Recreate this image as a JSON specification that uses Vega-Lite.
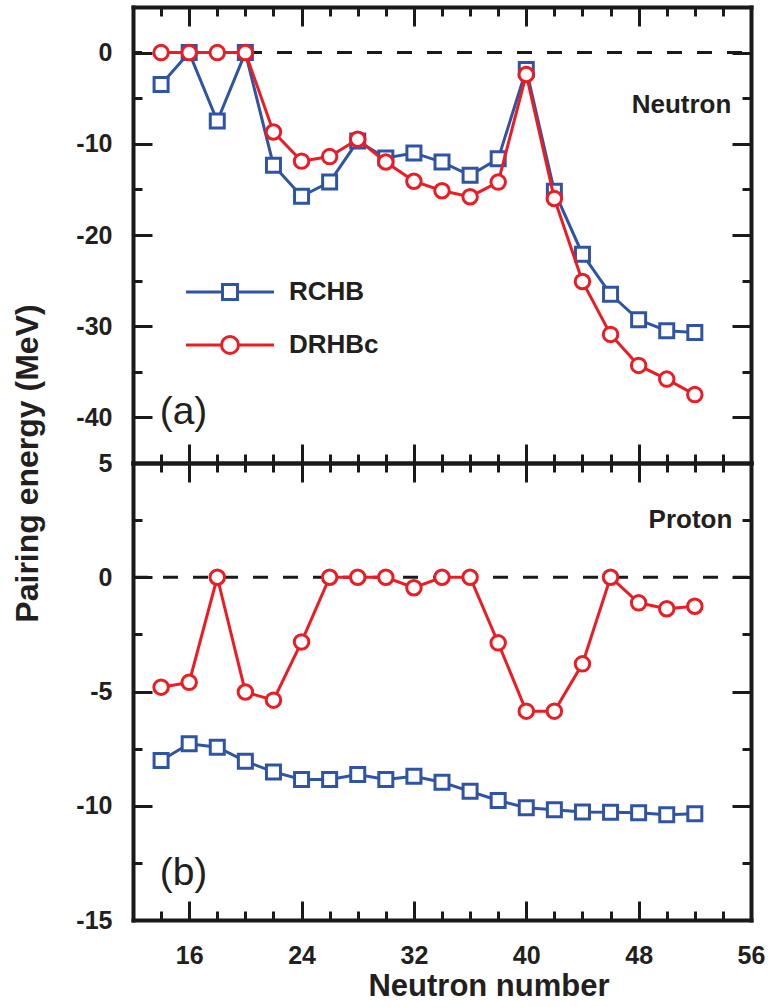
{
  "$schema": "https://vega.github.io/schema/vega-lite/v6.json",
  "padding": {"left": 10, "top": 5, "right": 5, "bottom": 5},
  "background": "white",
  "spacing": 0,
  "bounds": "flush",
  "config": {
    "view": {"stroke": null},
    "font": "Liberation Sans",
    "axis": {
      "grid": false,
      "domainWidth": 4,
      "domainColor": "#1a1a1a",
      "domainCap": "square",
      "tickWidth": 3,
      "tickColor": "#1a1a1a",
      "labelFont": "Liberation Sans",
      "labelFontSize": 25,
      "labelFontWeight": "bold",
      "labelColor": "#231f20",
      "labelFlush": false,
      "labelOverlap": false,
      "titleFont": "Liberation Sans",
      "titleFontWeight": "bold",
      "titleColor": "#231f20"
    }
  },
  "datasets": {
    "neutron": [
      {"N": 14, "model": "RCHB", "E": -3.5},
      {"N": 16, "model": "RCHB", "E": 0},
      {"N": 18, "model": "RCHB", "E": -7.5},
      {"N": 20, "model": "RCHB", "E": 0},
      {"N": 22, "model": "RCHB", "E": -12.35},
      {"N": 24, "model": "RCHB", "E": -15.75},
      {"N": 26, "model": "RCHB", "E": -14.2},
      {"N": 28, "model": "RCHB", "E": -9.7},
      {"N": 30, "model": "RCHB", "E": -11.55},
      {"N": 32, "model": "RCHB", "E": -11.0},
      {"N": 34, "model": "RCHB", "E": -12.0},
      {"N": 36, "model": "RCHB", "E": -13.45},
      {"N": 38, "model": "RCHB", "E": -11.65},
      {"N": 40, "model": "RCHB", "E": -1.85},
      {"N": 42, "model": "RCHB", "E": -15.2},
      {"N": 44, "model": "RCHB", "E": -22.1},
      {"N": 46, "model": "RCHB", "E": -26.5},
      {"N": 48, "model": "RCHB", "E": -29.3},
      {"N": 50, "model": "RCHB", "E": -30.5},
      {"N": 52, "model": "RCHB", "E": -30.7},
      {"N": 14, "model": "DRHBc", "E": 0},
      {"N": 16, "model": "DRHBc", "E": 0},
      {"N": 18, "model": "DRHBc", "E": 0},
      {"N": 20, "model": "DRHBc", "E": 0},
      {"N": 22, "model": "DRHBc", "E": -8.7},
      {"N": 24, "model": "DRHBc", "E": -11.9},
      {"N": 26, "model": "DRHBc", "E": -11.4},
      {"N": 28, "model": "DRHBc", "E": -9.5},
      {"N": 30, "model": "DRHBc", "E": -12.0},
      {"N": 32, "model": "DRHBc", "E": -14.1},
      {"N": 34, "model": "DRHBc", "E": -15.15},
      {"N": 36, "model": "DRHBc", "E": -15.8},
      {"N": 38, "model": "DRHBc", "E": -14.2},
      {"N": 40, "model": "DRHBc", "E": -2.4},
      {"N": 42, "model": "DRHBc", "E": -16.0},
      {"N": 44, "model": "DRHBc", "E": -25.1},
      {"N": 46, "model": "DRHBc", "E": -30.9},
      {"N": 48, "model": "DRHBc", "E": -34.3},
      {"N": 50, "model": "DRHBc", "E": -35.8},
      {"N": 52, "model": "DRHBc", "E": -37.5}
    ],
    "proton": [
      {"N": 14, "model": "RCHB", "E": -8.02},
      {"N": 16, "model": "RCHB", "E": -7.29},
      {"N": 18, "model": "RCHB", "E": -7.44},
      {"N": 20, "model": "RCHB", "E": -8.05},
      {"N": 22, "model": "RCHB", "E": -8.52},
      {"N": 24, "model": "RCHB", "E": -8.85},
      {"N": 26, "model": "RCHB", "E": -8.85},
      {"N": 28, "model": "RCHB", "E": -8.63},
      {"N": 30, "model": "RCHB", "E": -8.85},
      {"N": 32, "model": "RCHB", "E": -8.71},
      {"N": 34, "model": "RCHB", "E": -8.97},
      {"N": 36, "model": "RCHB", "E": -9.37},
      {"N": 38, "model": "RCHB", "E": -9.77},
      {"N": 40, "model": "RCHB", "E": -10.09},
      {"N": 42, "model": "RCHB", "E": -10.17},
      {"N": 44, "model": "RCHB", "E": -10.27},
      {"N": 46, "model": "RCHB", "E": -10.28},
      {"N": 48, "model": "RCHB", "E": -10.31},
      {"N": 50, "model": "RCHB", "E": -10.39},
      {"N": 52, "model": "RCHB", "E": -10.35},
      {"N": 14, "model": "DRHBc", "E": -4.81},
      {"N": 16, "model": "DRHBc", "E": -4.6},
      {"N": 18, "model": "DRHBc", "E": 0},
      {"N": 20, "model": "DRHBc", "E": -5.02},
      {"N": 22, "model": "DRHBc", "E": -5.38},
      {"N": 24, "model": "DRHBc", "E": -2.83},
      {"N": 26, "model": "DRHBc", "E": 0},
      {"N": 28, "model": "DRHBc", "E": 0},
      {"N": 30, "model": "DRHBc", "E": 0},
      {"N": 32, "model": "DRHBc", "E": -0.46},
      {"N": 34, "model": "DRHBc", "E": 0},
      {"N": 36, "model": "DRHBc", "E": 0},
      {"N": 38, "model": "DRHBc", "E": -2.87},
      {"N": 40, "model": "DRHBc", "E": -5.86},
      {"N": 42, "model": "DRHBc", "E": -5.86},
      {"N": 44, "model": "DRHBc", "E": -3.79},
      {"N": 46, "model": "DRHBc", "E": 0},
      {"N": 48, "model": "DRHBc", "E": -1.12},
      {"N": 50, "model": "DRHBc", "E": -1.38},
      {"N": 52, "model": "DRHBc", "E": -1.27}
    ]
  },
  "vconcat": [
    {
      "width": 618,
      "height": 456,
      "data": {"name": "neutron"},
      "resolve": {"axis": {"x": "independent", "y": "independent"}},
      "layer": [
        {
          "data": {"values": [{}]},
          "mark": {"type": "rule", "color": "#1a1a1a", "strokeWidth": 3, "strokeDash": [15, 15], "strokeDashOffset": 21},
          "encoding": {
            "y": {"datum": 0, "type": "quantitative", "scale": {"domain": [-45, 5], "nice": false, "zero": false}, "axis": null}
          }
        },
        {
          "transform": [{"filter": "datum.model === 'RCHB'"}],
          "mark": {"type": "line", "color": "#3054a5", "strokeWidth": 3},
          "encoding": {
            "x": {"field": "N", "type": "quantitative", "scale": {"domain": [12, 56], "nice": false, "zero": false},
              "axis": {"orient": "bottom", "values": [16, 24, 32, 40, 48, 56], "tickSize": -19, "labels": false, "title": null}},
            "y": {"field": "E", "type": "quantitative", "scale": {"domain": [-45, 5], "nice": false, "zero": false},
              "axis": {"orient": "left", "values": [0, -10, -20, -30, -40], "tickSize": -19,
                "labelExpr": "toString(datum.value)", "labelPadding": 40, "title": null}}
          }
        },
        {
          "transform": [{"filter": "datum.model === 'RCHB'"}],
          "mark": {"type": "point", "shape": "square", "filled": true, "fill": "white", "stroke": "#3054a5", "strokeWidth": 3, "size": 196, "opacity": 1},
          "encoding": {
            "x": {"field": "N", "type": "quantitative", "scale": {"domain": [12, 56], "nice": false, "zero": false},
              "axis": {"orient": "bottom", "values": [14, 18, 20, 22, 26, 28, 30, 34, 36, 38, 42, 44, 46, 50, 52, 54], "tickSize": -9, "labels": false, "domain": false, "title": null}},
            "y": {"field": "E", "type": "quantitative", "scale": {"domain": [-45, 5], "nice": false, "zero": false},
              "axis": {"orient": "left", "values": [-5, -15, -25, -35], "tickSize": -9, "labels": false, "domain": false, "title": null}}
          }
        },
        {
          "transform": [{"filter": "datum.model === 'DRHBc'"}],
          "mark": {"type": "line", "color": "#ec1c24", "strokeWidth": 3},
          "encoding": {
            "x": {"field": "N", "type": "quantitative", "scale": {"domain": [12, 56], "nice": false, "zero": false},
              "axis": {"orient": "top", "values": [16, 24, 32, 40, 48, 56], "tickSize": -19, "labels": false, "title": null}},
            "y": {"field": "E", "type": "quantitative", "scale": {"domain": [-45, 5], "nice": false, "zero": false},
              "axis": {"orient": "right", "values": [0, -10, -20, -30, -40], "tickSize": -19, "labels": false, "title": null}}
          }
        },
        {
          "transform": [{"filter": "datum.model === 'DRHBc'"}],
          "mark": {"type": "point", "shape": "circle", "filled": true, "fill": "white", "stroke": "#ec1c24", "strokeWidth": 3, "size": 210, "opacity": 1},
          "encoding": {
            "x": {"field": "N", "type": "quantitative", "scale": {"domain": [12, 56], "nice": false, "zero": false},
              "axis": {"orient": "top", "values": [14, 18, 20, 22, 26, 28, 30, 34, 36, 38, 42, 44, 46, 50, 52, 54], "tickSize": -9, "labels": false, "domain": false, "title": null}},
            "y": {"field": "E", "type": "quantitative", "scale": {"domain": [-45, 5], "nice": false, "zero": false},
              "axis": {"orient": "right", "values": [-5, -15, -25, -35], "tickSize": -9, "labels": false, "domain": false, "title": null}}
          }
        },
        {
          "data": {"values": [{}]},
          "mark": {"type": "text", "text": "Neutron", "align": "right", "baseline": "alphabetic", "font": "Liberation Sans", "fontSize": 26, "fontWeight": "bold", "color": "#231f20"},
          "encoding": {
            "x": {"datum": 54.6, "type": "quantitative", "scale": {"domain": [12, 56], "nice": false, "zero": false}, "axis": null},
            "y": {"datum": -6.6, "type": "quantitative", "scale": {"domain": [-45, 5], "nice": false, "zero": false}, "axis": null}
          }
        },
        {
          "data": {"values": [{}]},
          "mark": {"type": "text", "text": "(a)", "align": "left", "baseline": "alphabetic", "font": "Liberation Sans", "fontSize": 39, "fontWeight": "normal", "color": "#231f20"},
          "encoding": {
            "x": {"datum": 13.9, "type": "quantitative", "scale": {"domain": [12, 56], "nice": false, "zero": false}, "axis": null},
            "y": {"datum": -40.7, "type": "quantitative", "scale": {"domain": [-45, 5], "nice": false, "zero": false}, "axis": null}
          }
        },
        {
          "transform": [{"filter": "false"}],
          "mark": {"type": "point", "filled": false, "strokeWidth": 3, "size": 400, "opacity": 1},
          "encoding": {
            "shape": {"field": "model", "type": "nominal",
              "scale": {"domain": ["RCHB", "DRHBc"], "range": [
                "M-4.4,0H-0.75M0.75,0H4.4M-0.75,-0.75H0.75V0.75H-0.75Z",
                "M-4.4,0H-0.85M0.85,0H4.4M0.85,0A0.85,0.85,0,1,1,-0.85,0A0.85,0.85,0,1,1,0.85,0Z"
              ]},
              "legend": {"orient": "none", "legendX": 84, "legendY": 272, "title": null, "padding": 0,
                "labelFont": "Liberation Sans", "labelFontSize": 26, "labelFontWeight": "bold", "labelColor": "#231f20",
                "labelOffset": 46, "rowPadding": 24, "symbolStrokeWidth": 3, "symbolSize": 400}},
            "color": {"field": "model", "type": "nominal",
              "scale": {"domain": ["RCHB", "DRHBc"], "range": ["#3054a5", "#ec1c24"]},
              "legend": {"orient": "none", "legendX": 84, "legendY": 272, "title": null, "padding": 0,
                "labelFont": "Liberation Sans", "labelFontSize": 26, "labelFontWeight": "bold", "labelColor": "#231f20",
                "labelOffset": 46, "rowPadding": 24, "symbolStrokeWidth": 3, "symbolSize": 400}}
          }
        }
      ]
    },
    {
      "width": 618,
      "height": 457,
      "data": {"name": "proton"},
      "resolve": {"axis": {"x": "independent", "y": "independent"}},
      "layer": [
        {
          "data": {"values": [{}]},
          "mark": {"type": "rule", "color": "#1a1a1a", "strokeWidth": 3, "strokeDash": [15, 15], "strokeDashOffset": 27},
          "encoding": {
            "y": {"datum": 0, "type": "quantitative", "scale": {"domain": [-15, 5], "nice": false, "zero": false}, "axis": null}
          }
        },
        {
          "transform": [{"filter": "datum.model === 'RCHB'"}],
          "mark": {"type": "line", "color": "#3054a5", "strokeWidth": 3},
          "encoding": {
            "x": {"field": "N", "type": "quantitative", "scale": {"domain": [12, 56], "nice": false, "zero": false},
              "axis": {"orient": "bottom", "values": [16, 24, 32, 40, 48, 56], "tickSize": -19,
                "labelExpr": "toString(datum.value)", "labelBaseline": "alphabetic", "labelPadding": 62,
                "title": "Neutron number", "titleFontSize": 31, "titleX": 355.5, "titleY": 75,
                "titleBaseline": "alphabetic", "titleAlign": "center"}},
            "y": {"field": "E", "type": "quantitative", "scale": {"domain": [-15, 5], "nice": false, "zero": false},
              "axis": {"orient": "left", "values": [5, 0, -5, -10, -15], "tickSize": -19,
                "labelExpr": "toString(datum.value)", "labelPadding": 40,
                "title": "Pairing energy (MeV)", "titleFontSize": 32, "titleAngle": -90, "titleX": -96, "titleY": 0,
                "titleBaseline": "alphabetic", "titleAlign": "center"}}
          }
        },
        {
          "transform": [{"filter": "datum.model === 'RCHB'"}],
          "mark": {"type": "point", "shape": "square", "filled": true, "fill": "white", "stroke": "#3054a5", "strokeWidth": 3, "size": 196, "opacity": 1},
          "encoding": {
            "x": {"field": "N", "type": "quantitative", "scale": {"domain": [12, 56], "nice": false, "zero": false},
              "axis": {"orient": "bottom", "values": [14, 18, 20, 22, 26, 28, 30, 34, 36, 38, 42, 44, 46, 50, 52, 54], "tickSize": -9, "labels": false, "domain": false, "title": null}},
            "y": {"field": "E", "type": "quantitative", "scale": {"domain": [-15, 5], "nice": false, "zero": false},
              "axis": {"orient": "left", "values": [2.5, -2.5, -7.5, -12.5], "tickSize": -9, "labels": false, "domain": false, "title": null}}
          }
        },
        {
          "transform": [{"filter": "datum.model === 'DRHBc'"}],
          "mark": {"type": "line", "color": "#ec1c24", "strokeWidth": 3},
          "encoding": {
            "x": {"field": "N", "type": "quantitative", "scale": {"domain": [12, 56], "nice": false, "zero": false},
              "axis": {"orient": "top", "values": [16, 24, 32, 40, 48, 56], "tickSize": -19, "labels": false, "title": null}},
            "y": {"field": "E", "type": "quantitative", "scale": {"domain": [-15, 5], "nice": false, "zero": false},
              "axis": {"orient": "right", "values": [5, 0, -5, -10, -15], "tickSize": -19, "labels": false, "title": null}}
          }
        },
        {
          "transform": [{"filter": "datum.model === 'DRHBc'"}],
          "mark": {"type": "point", "shape": "circle", "filled": true, "fill": "white", "stroke": "#ec1c24", "strokeWidth": 3, "size": 210, "opacity": 1},
          "encoding": {
            "x": {"field": "N", "type": "quantitative", "scale": {"domain": [12, 56], "nice": false, "zero": false},
              "axis": {"orient": "top", "values": [14, 18, 20, 22, 26, 28, 30, 34, 36, 38, 42, 44, 46, 50, 52, 54], "tickSize": -9, "labels": false, "domain": false, "title": null}},
            "y": {"field": "E", "type": "quantitative", "scale": {"domain": [-15, 5], "nice": false, "zero": false},
              "axis": {"orient": "right", "values": [2.5, -2.5, -7.5, -12.5], "tickSize": -9, "labels": false, "domain": false, "title": null}}
          }
        },
        {
          "data": {"values": [{}]},
          "mark": {"type": "text", "text": "Proton", "align": "right", "baseline": "alphabetic", "font": "Liberation Sans", "fontSize": 26, "fontWeight": "bold", "color": "#231f20"},
          "encoding": {
            "x": {"datum": 54.67, "type": "quantitative", "scale": {"domain": [12, 56], "nice": false, "zero": false}, "axis": null},
            "y": {"datum": 2.16, "type": "quantitative", "scale": {"domain": [-15, 5], "nice": false, "zero": false}, "axis": null}
          }
        },
        {
          "data": {"values": [{}]},
          "mark": {"type": "text", "text": "(b)", "align": "left", "baseline": "alphabetic", "font": "Liberation Sans", "fontSize": 39, "fontWeight": "normal", "color": "#231f20"},
          "encoding": {
            "x": {"datum": 13.9, "type": "quantitative", "scale": {"domain": [12, 56], "nice": false, "zero": false}, "axis": null},
            "y": {"datum": -13.45, "type": "quantitative", "scale": {"domain": [-15, 5], "nice": false, "zero": false}, "axis": null}
          }
        }
      ]
    }
  ]
}
